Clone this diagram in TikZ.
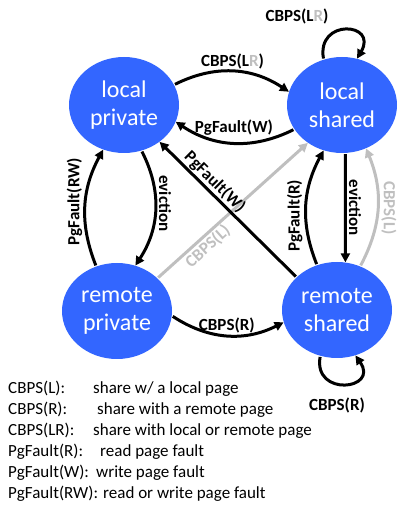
\documentclass[tikz,border=0pt]{standalone}
\usepackage{fontspec}
\setmainfont{Carlito}
\usetikzlibrary{shapes.geometric,arrows.meta}
\definecolor{nodeblue}{HTML}{3366FF}
\definecolor{lgray}{HTML}{BFBFBF}
\begin{document}
\begin{tikzpicture}[x=1pt,y=1pt,
  state/.style={ellipse, fill=nodeblue, draw=none, minimum width=110pt, minimum height=96pt, inner sep=0pt, text=white, font=\fontsize{24}{28}\selectfont, align=center},
  edge/.style={line width=3pt, -{Triangle[length=9pt,width=9pt]}, shorten <=1pt},
  gedge/.style={edge, draw=lgray},
  lbl/.style={font=\fontsize{17}{20}\selectfont\bfseries, inner sep=1pt},
  glbl/.style={lbl, text=lgray},
  leg/.style={font=\fontsize{17}{21}\selectfont, anchor=base west, inner sep=0pt}]
\useasboundingbox (0,0) rectangle (399,506);
\node[state] (lp) at (124,401) {local\\private};
\node[state] (ls) at (342,401) {local\\shared};
\node[state] (rp) at (117,195) {remote\\private};
\node[state] (rs) at (337,196) {remote\\shared};
% gray diagonal first
\draw[gedge] (rp.39) -- node[glbl, sloped, below, pos=0.29] (l5) {CBPS(L)} (ls.228);
\draw[edge] (rs.141) -- node[lbl, sloped, above, pos=0.65] (l4) {PgFault(W)} (lp.-46);
\draw[edge] (lp.22) to[bend left=30] node[lbl, above] (l1) {CBPS(L\textcolor{lgray}{R})} (ls.166);
\draw[edge] (ls.207) to[bend left=30] node[lbl, above=5pt] (l2) {PgFault(W)} (lp.-18);
\draw[edge] (ls.112) .. controls +(100:42) and +(60:42) .. (ls.72);
\node[lbl] (l3) at (297,490) {CBPS(L\textcolor{lgray}{R})};
\draw[edge] (lp.-69) to[bend left=30] node[lbl, rotate=-90, above=1pt, pos=0.45] (l6) {eviction} (rp.68);
\draw[edge] (rp.115) to[bend left=25] node[lbl, rotate=90, above=1pt, pos=0.55] (l7) {PgFault(RW)} (lp.245);
\draw[edge] (ls.-86) -- node[lbl, rotate=-90, above=1pt] (l8) {eviction} (rs.80);
\draw[edge] (rs.114) to[bend left=25] node[lbl, rotate=90, above=1pt, pos=0.42] (l9) {PgFault(R)} (ls.248);
\draw[gedge] (rs.62) to[bend right=25] node[glbl, rotate=-90, above=1pt] (l10) {CBPS(L)} (ls.-61);
\draw[edge] (rp.-5) to[bend right=30] node[lbl, above=0pt] (l11) {CBPS(R)} (rs.193);
\draw[edge] (rs.250) .. controls +(-100:42) and +(-55:42) .. (rs.292);
\node[lbl] (l12) at (337,101) {CBPS(R)};
% legend
\node[leg] (k1) at (8,112) {CBPS(L):};
\node[leg] (d1) at (93,112) {share w/ a local page};
\node[leg] (k2) at (8,91) {CBPS(R):};
\node[leg] (d2) at (97,91) {share with a remote page};
\node[leg] (k3) at (8,70) {CBPS(LR):};
\node[leg] (d3) at (93,70) {share with local or remote page};
\node[leg] (k4) at (8,49) {PgFault(R):};
\node[leg] (d4) at (100,49) {read page fault};
\node[leg] (k5) at (8,28) {PgFault(W):};
\node[leg] (d5) at (96,28) {write page fault};
\node[leg] (k6) at (8,7) {PgFault(RW):};
\node[leg] (d6) at (103,7) {read or write page fault};
\end{tikzpicture}
\end{document}
